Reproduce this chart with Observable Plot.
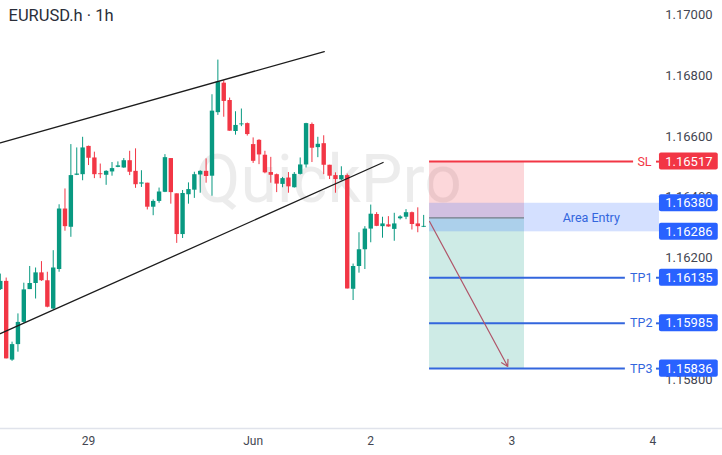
<!DOCTYPE html>
<html>
<head>
<meta charset="utf-8">
<script src="https://cdn.jsdelivr.net/npm/d3@7"></script>
<script src="https://cdn.jsdelivr.net/npm/@observablehq/plot@0.6"></script>
<style>
html,body{margin:0;padding:0;background:#fff;overflow:hidden}
svg{display:block}
</style>
</head>
<body>
<div id="chart"></div>
<script>
const opens = [1.16096,1.16123,1.15864,1.15915,1.15988,1.16096,1.16116,1.16151,1.16125,1.16032,1.16162,1.16361,1.16301,1.16472,1.16474,1.16567,1.16529,1.16477,1.16472,1.16483,1.16498,1.16496,1.16520,1.16485,1.16443,1.16446,1.16367,1.16386,1.16416,1.16527,1.16411,1.16277,1.16408,1.16423,1.16473,1.16485,1.16469,1.16678,1.16775,1.16718,1.16616,1.16638,1.16642,1.16573,1.16587,1.16538,1.16481,1.16474,1.16442,1.16463,1.16431,1.16475,1.16506,1.16639,1.16563,1.16576,1.16505,1.16471,1.16457,1.16471,1.16097,1.16172,1.16227,1.16295,1.16343,1.16303,1.16309,1.16294,1.16329,1.16334,1.16349,1.16312,1.16301];
const highs = [1.16147,1.16134,1.15923,1.16016,1.16117,1.16172,1.16167,1.16188,1.16153,1.16224,1.16375,1.16427,1.16573,1.16562,1.16597,1.16568,1.16548,1.16509,1.16487,1.16514,1.16516,1.16527,1.16551,1.16559,1.16487,1.16446,1.16391,1.16430,1.16540,1.16527,1.16411,1.16422,1.16447,1.16482,1.16487,1.16526,1.16737,1.16851,1.16783,1.16726,1.16681,1.16690,1.16644,1.16595,1.16589,1.16551,1.16531,1.16476,1.16465,1.16481,1.16481,1.16529,1.16643,1.16644,1.16597,1.16602,1.16505,1.16480,1.16500,1.16476,1.16180,1.16283,1.16303,1.16374,1.16349,1.16334,1.16336,1.16347,1.16339,1.16359,1.16351,1.16365,1.16340];
const lows = [1.16093,1.15868,1.15860,1.15890,1.15985,1.16096,1.16065,1.16123,1.16036,1.16029,1.16153,1.16288,1.16268,1.16471,1.16454,1.16504,1.16461,1.16461,1.16439,1.16469,1.16497,1.16495,1.16471,1.16429,1.16432,1.16358,1.16339,1.16380,1.16415,1.16377,1.16248,1.16264,1.16377,1.16396,1.16413,1.16446,1.16403,1.16669,1.16663,1.16617,1.16604,1.16632,1.16601,1.16511,1.16507,1.16477,1.16446,1.16415,1.16431,1.16413,1.16430,1.16473,1.16496,1.16514,1.16530,1.16474,1.16458,1.16413,1.16454,1.16098,1.16060,1.16150,1.16162,1.16250,1.16303,1.16265,1.16301,1.16255,1.16325,1.16326,1.16292,1.16283,1.16300];
const closes = [1.16123,1.15868,1.15915,1.15988,1.16095,1.16116,1.16151,1.16125,1.16038,1.16167,1.16361,1.16303,1.16471,1.16476,1.16562,1.16528,1.16474,1.16474,1.16485,1.16494,1.16503,1.16520,1.16482,1.16441,1.16447,1.16367,1.16386,1.16417,1.16530,1.16415,1.16277,1.16412,1.16425,1.16474,1.16485,1.16468,1.16683,1.16779,1.16715,1.16617,1.16636,1.16641,1.16606,1.16518,1.16539,1.16480,1.16472,1.16443,1.16461,1.16434,1.16475,1.16506,1.16642,1.16561,1.16574,1.16505,1.16469,1.16458,1.16471,1.16098,1.16172,1.16227,1.16295,1.16344,1.16304,1.16312,1.16302,1.16312,1.16335,1.16349,1.16310,1.16303,1.16304];

const priceTicks = [1.17, 1.168, 1.166, 1.164, 1.162, 1.158];
const dateTicks = [15, 43, 63, 87, 111];
const dateLabels = ["29", "Jun", "2", "3", "4"];

const channelUpper = [[0, 1.16579], [55.1, 1.16879]];
const channelLower = [[0, 1.15951], [65.1, 1.16514]];

const slPrice = 1.16517;
const entryTop = 1.16380;
const entryBottom = 1.16286;
const entryMid = 1.16332;
const tpPrices = [1.16135, 1.15985, 1.15836];
const tpNames = ["TP1", "TP2", "TP3"];
const arrowFrom = [73.0, 1.16320];
const arrowTo = [86.3, 1.15843];

const zoneStart = 73.0, zoneEnd = 89.15, bandEnd = 112.1, tagEnd = 122.1;
const slLineEnd = 107.7, tpLineEnd = 106.3, stubStart = 111.6;
const tagHalf = 0.00028;

const UP = "#089981", DOWN = "#f23645", BLUE = "#2962ff", LINE = "#3366dd", TEXT = "#434651";

const candles = opens.map((o, i) => ({i, o, h: highs[i], l: lows[i], c: closes[i]}));
const ups = candles.filter(d => d.c >= d.o);
const downs = candles.filter(d => d.c < d.o);

const tpRows = tpPrices.map((p, k) => ({p, name: tpNames[k]}));
const tags = [
  {p: slPrice, fill: DOWN},
  {p: entryTop, fill: BLUE},
  {p: entryBottom, fill: BLUE},
  ...tpPrices.map(p => ({p, fill: BLUE}))
];
const tagUp = tags.filter(t => t.fill === BLUE);
const tagDown = tags.filter(t => t.fill === DOWN);
const fmt = d3.format(".5f");
const FONT = "Roboto, sans-serif";

const plot = Plot.plot({
  width: 722,
  height: 455,
  marginTop: 0, marginRight: 0, marginBottom: 27, marginLeft: 0,
  style: {fontFamily: FONT, background: "#fff", overflow: "hidden"},
  x: {domain: [0.034, 122.82], axis: null},
  y: {domain: [1.15639, 1.17047], axis: null},
  marks: [
    // watermark
    Plot.text(["QuickPro"], {x: [55.8], y: [1.16454], text: d => d, fontSize: 66, fill: "#000", fillOpacity: 0.075, fontFamily: FONT, stroke: "none"}),
    // wicks + bodies
    Plot.ruleX(ups, {x: "i", y1: "l", y2: "h", stroke: UP, strokeWidth: 1}),
    Plot.ruleX(downs, {x: "i", y1: "l", y2: "h", stroke: DOWN, strokeWidth: 1}),
    Plot.ruleX(ups, {x: "i", y1: "o", y2: "c", stroke: UP, strokeWidth: 4.4}),
    Plot.ruleX(downs, {x: "i", y1: "o", y2: "c", stroke: DOWN, strokeWidth: 4.4}),
    // channel
    Plot.line(channelUpper, {x: d => d[0], y: d => d[1], stroke: "#1c1c1c", strokeWidth: 1.3}),
    Plot.line(channelLower, {x: d => d[0], y: d => d[1], stroke: "#1c1c1c", strokeWidth: 1.3}),
    // zones
    Plot.rectY([0], {x1: zoneStart, x2: zoneEnd, y1: entryMid, y2: slPrice, fill: "#f23645", fillOpacity: 0.2}),
    Plot.rectY([0], {x1: zoneStart, x2: zoneEnd, y1: tpPrices[2], y2: entryMid, fill: "#089981", fillOpacity: 0.2}),
    Plot.rectY([0], {x1: zoneStart, x2: bandEnd, y1: entryBottom, y2: entryTop, fill: BLUE, fillOpacity: 0.2}),
    Plot.ruleY([entryMid], {x1: zoneStart, x2: zoneEnd, stroke: "#787b86", strokeWidth: 1.2}),
    // y tick labels
    Plot.text(priceTicks, {y: d => d, text: d => fmt(d), frameAnchor: "right", textAnchor: "end", dx: -10, fontSize: 13, fill: TEXT, fontFamily: FONT}),
    // levels
    Plot.ruleY([slPrice], {x1: zoneStart, x2: slLineEnd, stroke: DOWN, strokeWidth: 2}),
    Plot.ruleY([slPrice], {x1: stubStart, x2: bandEnd, stroke: DOWN, strokeWidth: 2}),
    Plot.ruleY(tpPrices, {x1: zoneStart, x2: tpLineEnd, stroke: LINE, strokeWidth: 2}),
    Plot.ruleY(tpPrices, {x1: stubStart, x2: bandEnd, stroke: LINE, strokeWidth: 2}),
    Plot.text(["SL"], {x: [109.55], y: [slPrice], text: d => d, fontSize: 12.5, fill: DOWN, fontFamily: FONT}),
    Plot.text(tpRows, {x: () => 109, y: "p", text: "name", fontSize: 12.5, fill: LINE, fontFamily: FONT}),
    Plot.text(["Area Entry"], {x: [100.5], y: [entryMid], text: d => d, fontSize: 12.5, fill: LINE, fontFamily: FONT}),
    // arrow
    Plot.arrow([0], {x1: arrowFrom[0], y1: arrowFrom[1], x2: arrowTo[0], y2: arrowTo[1], bend: 0, stroke: "#b0566a", strokeWidth: 1.2, headLength: 9}),
    // price tags
    Plot.rectY(tagUp, {x1: bandEnd, x2: tagEnd, y1: d => d.p - tagHalf, y2: d => d.p + tagHalf, fill: BLUE, rx: 2}),
    Plot.rectY(tagDown, {x1: bandEnd, x2: tagEnd, y1: d => d.p - tagHalf, y2: d => d.p + tagHalf, fill: DOWN, rx: 2}),
    Plot.text(tags, {y: "p", text: d => fmt(d.p), frameAnchor: "right", textAnchor: "end", dx: -10, fontSize: 13, fill: "#fff", fontFamily: FONT}),
    // x axis
    Plot.ruleY([1.15639], {stroke: "#e0e3eb", strokeWidth: 1.5}),
    Plot.text(dateTicks, {x: d => d, text: (d, i) => dateLabels[i], frameAnchor: "bottom", dy: 16, fontSize: 12, fill: TEXT, fontFamily: FONT, fontWeight: (d, i) => dateLabels[i] === "Jun" ? 600 : 400}),
    // title
    Plot.text(["EURUSD.h · 1h"], {text: d => d, frameAnchor: "top-left", dx: 8, dy: 9, fontSize: 16.5, fill: "#2a2e39", fontFamily: FONT})
  ]
});
document.getElementById("chart").appendChild(plot);
</script>
</body>
</html>
